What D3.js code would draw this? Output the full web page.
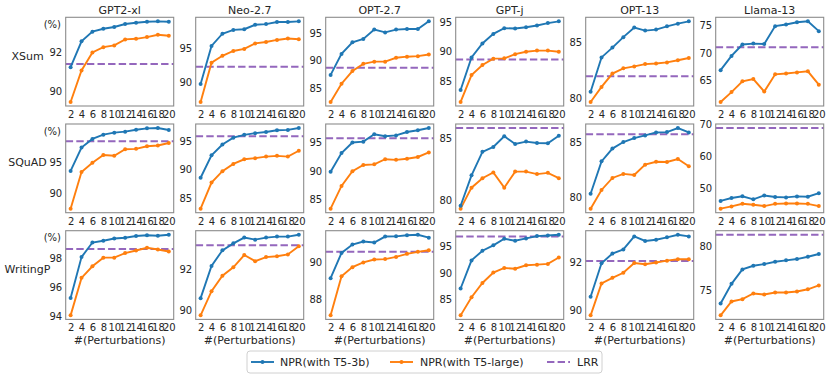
<!DOCTYPE html>
<html>
<head>
<meta charset="utf-8">
<script src="https://d3js.org/d3.v7.min.js"></script>
<style>
  body { margin: 0; background: #fff; }
  text { font-family: "DejaVu Sans", sans-serif; fill: #262626; }
</style>
</head>
<body>
<div id="chart_holder"></div>
<script>
// models (columns) and datasets (rows)
var models = ["GPT2-xl", "Neo-2.7", "OPT-2.7", "GPT-j", "OPT-13", "Llama-13"];
var datasets = ["XSum", "SQuAD", "WritingP"];
var perturbations = [2, 4, 6, 8, 10, 12, 14, 16, 18, 20];

// XSum
var xsumT53b = [
  [91.24, 92.57, 93.07, 93.22, 93.31, 93.46, 93.53, 93.58, 93.6, 93.58],
  [89.8, 95.33, 97.1, 97.66, 97.76, 98.4, 98.5, 98.8, 98.8, 98.9],
  [87.4, 91.2, 93.3, 93.9, 95.6, 95.1, 95.6, 95.7, 95.7, 97.1],
  [83.6, 89.05, 91.4, 93.0, 93.96, 93.9, 94.1, 94.4, 94.8, 95.1],
  [80.56, 83.65, 84.53, 85.47, 86.33, 86.06, 86.15, 86.44, 86.68, 86.89],
  [66.9, 69.46, 71.5, 71.67, 71.6, 74.8, 75.1, 75.5, 75.66, 73.9]
];
var xsumT5large = [
  [89.45, 91.07, 92.0, 92.27, 92.36, 92.67, 92.7, 92.79, 92.91, 92.86],
  [87.2, 92.9, 93.9, 94.6, 94.9, 95.7, 95.9, 96.2, 96.4, 96.3],
  [82.5, 85.8, 88.1, 89.4, 89.8, 89.8, 90.5, 90.7, 90.8, 91.1],
  [81.6, 86.1, 87.8, 88.85, 88.9, 89.6, 90.0, 90.2, 90.2, 90.0],
  [79.65, 81.0, 82.2, 82.67, 82.84, 83.05, 83.1, 83.2, 83.4, 83.6],
  [61.2, 62.97, 64.9, 65.3, 63.06, 66.15, 66.3, 66.5, 66.7, 64.3]
];
var xsumLRR = [91.4, 92.3, 88.7, 88.7, 81.95, 71.0];

// SQuAD
var squadT53b = [
  [93.64, 97.37, 98.74, 99.42, 99.74, 99.9, 100.2, 100.43, 100.48, 100.17],
  [88.54, 92.5, 94.4, 95.6, 96.1, 96.4, 96.6, 96.9, 96.97, 97.3],
  [89.9, 93.2, 95.05, 95.2, 96.5, 96.15, 96.3, 96.9, 97.2, 97.6],
  [79.54, 82.0, 83.9, 84.3, 85.16, 84.54, 84.73, 84.62, 84.6, 85.2],
  [80.3, 83.24, 84.4, 85.0, 85.36, 85.6, 85.87, 85.9, 86.27, 85.87],
  [46.2, 47.1, 47.65, 46.7, 47.9, 47.4, 47.3, 47.6, 47.5, 48.6]
];
var squadT5large = [
  [87.63, 93.48, 94.95, 96.17, 96.06, 97.1, 97.16, 97.58, 97.69, 98.1],
  [83.1, 87.7, 89.7, 90.98, 91.8, 92.0, 92.27, 92.4, 92.27, 93.3],
  [83.4, 87.4, 90.0, 91.1, 91.2, 92.1, 92.0, 92.2, 92.5, 93.3],
  [79.3, 81.0, 81.77, 82.23, 81.0, 82.3, 82.3, 82.1, 82.2, 81.77],
  [78.94, 80.64, 81.73, 82.1, 82.0, 82.94, 83.2, 83.18, 83.45, 82.8],
  [43.8, 44.5, 45.3, 45.0, 44.6, 45.3, 45.4, 45.4, 45.3, 44.6]
];
var squadLRR = [98.38, 95.87, 95.8, 85.83, 85.7, 68.8];

// WritingPrompts
var writingT53b = [
  [95.25, 98.09, 99.1, 99.22, 99.38, 99.43, 99.55, 99.6, 99.57, 99.64],
  [90.6, 92.17, 92.93, 93.27, 93.55, 93.45, 93.55, 93.6, 93.6, 93.69],
  [89.13, 90.52, 90.98, 91.15, 91.09, 91.42, 91.43, 91.49, 91.52, 91.36],
  [87.06, 92.36, 94.18, 95.2, 96.45, 96.06, 96.5, 96.94, 97.06, 97.2],
  [90.56, 91.97, 92.38, 92.55, 93.1, 92.91, 92.96, 93.06, 93.17, 93.1],
  [73.46, 75.73, 77.39, 77.81, 78.0, 78.27, 78.43, 78.58, 78.85, 79.16]
];
var writingT5large = [
  [94.05, 96.65, 97.45, 98.05, 98.05, 98.37, 98.55, 98.74, 98.62, 98.48],
  [89.76, 90.94, 91.69, 92.1, 92.7, 92.4, 92.6, 92.64, 92.73, 93.13],
  [87.09, 89.24, 89.74, 90.0, 90.16, 90.18, 90.3, 90.47, 90.58, 90.67],
  [82.0, 85.43, 88.1, 90.06, 90.94, 90.8, 91.44, 91.56, 91.7, 92.9],
  [89.78, 91.12, 91.36, 91.57, 91.98, 91.93, 92.0, 92.08, 92.14, 92.14],
  [72.1, 73.7, 73.96, 74.62, 74.5, 74.73, 74.73, 74.85, 75.1, 75.54]
];
var writingLRR = [98.65, 93.18, 90.58, 96.88, 92.07, 81.38];

// y tick labels, per row then per column
var xsumTicks = [[90, 92], [90, 95], [85, 90, 95], [85, 90, 95], [80, 85], [65, 70, 75]];
var squadTicks = [[90, 95], [85, 90, 95], [85, 90, 95], [80, 85], [80, 85], [50, 60, 70]];
var writingTicks = [[94, 96, 98], [90, 92], [88, 90], [85, 90, 95], [90, 92], [75, 80]];

var seriesNames = ["NPR(with T5-3b)", "NPR(with T5-large)", "LRR"];

var rows = [
  { t53b: xsumT53b, t5large: xsumT5large, lrr: xsumLRR, ticks: xsumTicks },
  { t53b: squadT53b, t5large: squadT5large, lrr: squadLRR, ticks: squadTicks },
  { t53b: writingT53b, t5large: writingT5large, lrr: writingLRR, ticks: writingTicks }
];

var blue = "#1f77b4", orange = "#ff7f0e", purple = "#9467bd";

var width = 830, height = 376;
var left0 = 65.7, colStep = 130, panelW = 108;
var top0 = 17.3, rowStep = 106.7, panelH = 88.7;

var svg = d3.select("#chart_holder").append("svg")
  .attr("width", width)
  .attr("height", height);

svg.append("rect").attr("width", width).attr("height", height).attr("fill", "#fff");

// matplotlib-ish 5% padding on x
var x = d3.scaleLinear().domain([1.1, 20.9]).range([0, panelW]);
var fmt = d3.format("d");

rows.forEach(function(row, r) {
  var py = top0 + r * rowStep;

  // row label
  svg.append("text")
    .attr("x", 27.5)
    .attr("y", py + panelH / 2 - 6 + 4)
    .attr("text-anchor", "middle")
    .style("font-size", "11px")
    .text(datasets[r]);

  models.forEach(function(model, c) {
    var px = left0 + c * colStep;
    var g = svg.append("g").attr("transform", "translate(" + px + "," + py + ")");

    var a = row.t53b[c], b = row.t5large[c], l = row.lrr[c];
    var all = a.concat(b).concat([l]);
    var lo = d3.min(all), hi = d3.max(all), pad = (hi - lo) * 0.05;
    var y = d3.scaleLinear().domain([lo - pad, hi + pad]).range([panelH, 0]);

    // axes, no tick marks just labels
    var ya = g.append("g").call(d3.axisLeft(y).tickValues(row.ticks[c]).tickFormat(fmt).tickSize(0).tickPadding(3.5));
    ya.select(".domain").remove();
    ya.selectAll("text").style("font-size", "10px").attr("fill", "#262626");

    var xa = g.append("g").attr("transform", "translate(0," + panelH + ")")
      .call(d3.axisBottom(x).tickValues(perturbations).tickFormat(fmt).tickSize(0).tickPadding(5));
    xa.select(".domain").remove();
    xa.selectAll("text").style("font-size", "10px").attr("fill", "#262626");

    // lrr baseline
    g.append("line")
      .attr("x1", 0).attr("x2", panelW)
      .attr("y1", y(l)).attr("y2", y(l))
      .attr("stroke", purple)
      .attr("stroke-width", 2)
      .attr("stroke-dasharray", "7.4,3.2");

    var line = d3.line()
      .x(function(d, i) { return x(perturbations[i]); })
      .y(function(d) { return y(d); });

    [[b, orange], [a, blue]].forEach(function(s) {
      g.append("path")
        .attr("d", line(s[0]))
        .attr("fill", "none")
        .attr("stroke", s[1])
        .attr("stroke-width", 1.9);
      g.selectAll(null)
        .data(s[0])
        .enter().append("circle")
          .attr("cx", function(d, i) { return x(perturbations[i]); })
          .attr("cy", function(d) { return y(d); })
          .attr("r", 2)
          .attr("fill", s[1]);
    });

    // frame
    g.append("rect")
      .attr("width", panelW).attr("height", panelH)
      .attr("fill", "none")
      .attr("stroke", "#8c8c8c")
      .attr("stroke-width", 1.1);

    if (r === 0) {
      g.append("text")
        .attr("x", panelW / 2).attr("y", -3.3)
        .attr("text-anchor", "middle")
        .style("font-size", "11px")
        .text(model);
    }
    if (r === rows.length - 1) {
      g.append("text")
        .attr("x", panelW / 2).attr("y", 344 - py)
        .attr("text-anchor", "middle")
        .style("font-size", "11px")
        .text("#(Perturbations)");
    }
    if (c === 0) {
      g.append("text")
        .attr("x", -4.7).attr("y", 10.5)
        .attr("text-anchor", "end")
        .style("font-size", "10px")
        .text("(%)");
    }
  });
});

// legend
var legend = svg.append("g").attr("transform", "translate(247,351)");
legend.append("rect")
  .attr("width", 355).attr("height", 22).attr("rx", 3)
  .attr("fill", "#fff").attr("stroke", "#d0d0d0");

var legendItems = [
  { name: seriesNames[0], color: blue, x0: 4, tx: 33, dash: null },
  { name: seriesNames[1], color: orange, x0: 143, tx: 173, dash: null },
  { name: seriesNames[2], color: purple, x0: 300, tx: 330, dash: "7.4,3.2" }
];
legendItems.forEach(function(it) {
  var ln = legend.append("line")
    .attr("x1", it.x0).attr("x2", it.x0 + 23)
    .attr("y1", 11).attr("y2", 11)
    .attr("stroke", it.color)
    .attr("stroke-width", it.dash ? 2 : 1.9);
  if (it.dash) {
    ln.attr("stroke-dasharray", it.dash);
  } else {
    legend.append("circle").attr("cx", it.x0 + 11.5).attr("cy", 11).attr("r", 2).attr("fill", it.color);
  }
  legend.append("text")
    .attr("x", it.tx).attr("y", 15)
    .style("font-size", "11px")
    .text(it.name);
});
</script>
</body>
</html>
